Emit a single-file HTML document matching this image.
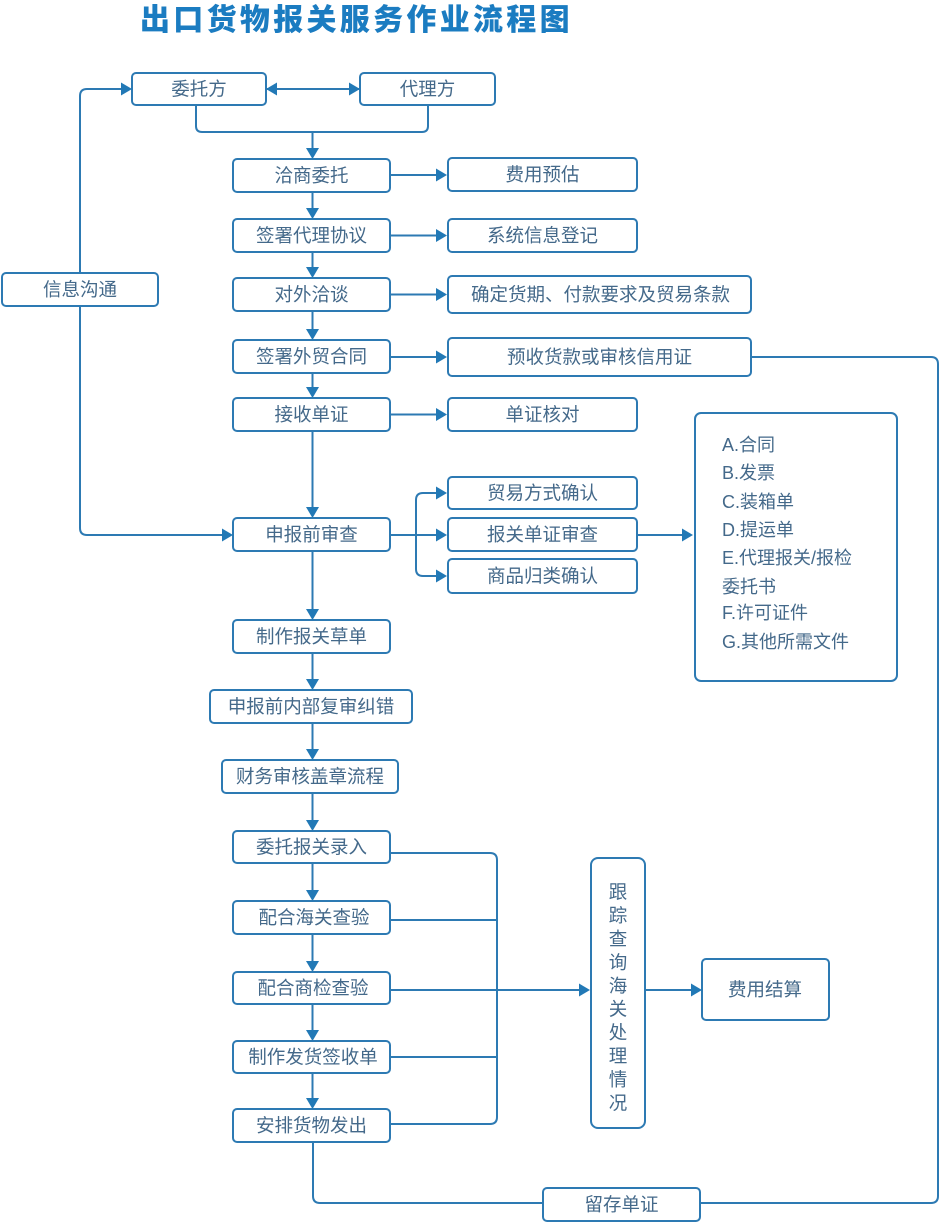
<!DOCTYPE html>
<html>
<head>
<meta charset="utf-8">
<style>
  html,body{margin:0;padding:0;background:#fff;}
  body{width:940px;height:1222px;overflow:hidden;}
  svg{display:block;}
  .t{font-family:"Liberation Sans","Noto Sans CJK SC",sans-serif;font-size:18.5px;fill:#44698a;}
  .d{font-family:"Liberation Sans","Noto Sans CJK SC",sans-serif;font-size:18px;fill:#44698a;}
  .title{font-family:"Noto Sans CJK SC","WenQuanYi Zen Hei",sans-serif;font-size:30px;font-weight:900;fill:#1b7cc1;letter-spacing:3.3px;}
</style>
</head>
<body>
<svg width="940" height="1222" viewBox="0 0 940 1222" xmlns="http://www.w3.org/2000/svg">
  <!-- Title -->
  <text class="title" x="140" y="17" dominant-baseline="central">出口货物报关服务作业流程图</text>

  <!-- Connector lines -->
  <g fill="none" stroke="#2d7ab3" stroke-width="2">
    <path d="M266,89 H360"/>
    <path d="M196,105 V126 Q196,132 202,132 H422 Q428,132 428,126 V105"/>
    <path d="M312.5,132 V152"/>
    <path d="M80,273 V96 Q80,89 87,89 H125"/>
    <path d="M80,306 V528 Q80,535 87,535 H226"/>
    <path d="M312.5,192 V212"/>
    <path d="M312.5,252 V271"/>
    <path d="M312.5,311 V333"/>
    <path d="M312.5,373 V391"/>
    <path d="M312.5,431 V511"/>
    <path d="M312.5,551 V613"/>
    <path d="M312.5,653 V683"/>
    <path d="M312.5,723 V753"/>
    <path d="M312.5,793 V824"/>
    <path d="M312.5,863 V894"/>
    <path d="M312.5,934 V965"/>
    <path d="M312.5,1004 V1034"/>
    <path d="M312.5,1073 V1102"/>
    <path d="M390,175 H440"/>
    <path d="M390,235.5 H440"/>
    <path d="M390,294.5 H440"/>
    <path d="M390,357 H440"/>
    <path d="M390,414.5 H440"/>
    <path d="M390,535 H440"/>
    <path d="M416,535 V500 Q416,493 423,493 H440"/>
    <path d="M416,535 V569 Q416,576 423,576 H440"/>
    <path d="M637,535 H686"/>
    <path d="M751,357 H931 Q938,357 938,364 V1196 Q938,1203 931,1203 H700"/>
    <path d="M313,1142 V1196 Q313,1203 320,1203 H543"/>
    <path d="M390,853 H490 Q497,853 497,860 V1117 Q497,1124 490,1124 H390"/>
    <path d="M390,920 H497"/>
    <path d="M390,990 H583"/>
    <path d="M390,1057 H497"/>
    <path d="M645,990 H695"/>
  </g>

  <!-- Boxes -->
  <g fill="#fff" stroke="#2d7ab3" stroke-width="2">
    <rect x="132" y="73" width="134" height="32" rx="4"/>
    <rect x="360" y="73" width="135" height="32" rx="4"/>
    <rect x="2" y="273" width="156" height="33" rx="4"/>
    <rect x="233" y="159" width="157" height="33" rx="4"/>
    <rect x="233" y="219" width="157" height="33" rx="4"/>
    <rect x="233" y="278" width="157" height="33" rx="4"/>
    <rect x="233" y="340" width="157" height="33" rx="4"/>
    <rect x="233" y="398" width="157" height="33" rx="4"/>
    <rect x="233" y="518" width="157" height="33" rx="4"/>
    <rect x="233" y="620" width="157" height="33" rx="4"/>
    <rect x="210" y="690" width="202" height="33" rx="4"/>
    <rect x="222" y="760" width="176" height="33" rx="4"/>
    <rect x="233" y="831" width="157" height="32" rx="4"/>
    <rect x="233" y="901" width="157" height="33" rx="4"/>
    <rect x="233" y="972" width="157" height="32" rx="4"/>
    <rect x="233" y="1041" width="157" height="32" rx="4"/>
    <rect x="233" y="1109" width="157" height="33" rx="4"/>
    <rect x="448" y="158" width="189" height="33" rx="4"/>
    <rect x="448" y="219" width="189" height="33" rx="4"/>
    <rect x="448" y="276" width="303" height="37" rx="4"/>
    <rect x="448" y="338" width="303" height="38" rx="4"/>
    <rect x="448" y="398" width="189" height="33" rx="4"/>
    <rect x="448" y="477" width="189" height="32" rx="4"/>
    <rect x="448" y="518" width="189" height="33" rx="4"/>
    <rect x="448" y="559" width="189" height="34" rx="4"/>
    <rect x="695" y="413" width="202" height="268" rx="6"/>
    <rect x="591" y="858" width="54" height="270" rx="7"/>
    <rect x="702" y="959" width="127" height="61" rx="4"/>
    <rect x="543" y="1188" width="157" height="33" rx="4"/>
  </g>

  <!-- Arrowheads -->
  <g fill="#2279b6">
    <polygon points="277,82.5 266,89 277,95.5"/>
    <polygon points="349,82.5 360,89 349,95.5"/>
    <polygon points="121,82.5 132,89 121,95.5"/>
    <polygon points="222,528.5 233,535 222,541.5"/>
    <polygon points="306,148 312.5,159 319,148"/>
    <polygon points="306,208 312.5,219 319,208"/>
    <polygon points="306,267 312.5,278 319,267"/>
    <polygon points="306,329 312.5,340 319,329"/>
    <polygon points="306,387 312.5,398 319,387"/>
    <polygon points="306,507 312.5,518 319,507"/>
    <polygon points="306,609 312.5,620 319,609"/>
    <polygon points="306,679 312.5,690 319,679"/>
    <polygon points="306,749 312.5,760 319,749"/>
    <polygon points="306,820 312.5,831 319,820"/>
    <polygon points="306,890 312.5,901 319,890"/>
    <polygon points="306,961 312.5,972 319,961"/>
    <polygon points="306,1030 312.5,1041 319,1030"/>
    <polygon points="306,1098 312.5,1109 319,1098"/>
    <polygon points="436,168.5 447,175 436,181.5"/>
    <polygon points="436,229 447,235.5 436,242"/>
    <polygon points="436,288 447,294.5 436,301"/>
    <polygon points="436,350.5 447,357 436,363.5"/>
    <polygon points="436,408 447,414.5 436,421"/>
    <polygon points="436,486.5 447,493 436,499.5"/>
    <polygon points="436,528.5 447,535 436,541.5"/>
    <polygon points="436,569.5 447,576 436,582.5"/>
    <polygon points="682,528.5 693,535 682,541.5"/>
    <polygon points="579,983.5 590,990 579,996.5"/>
    <polygon points="691,983.5 702,990 691,996.5"/>
  </g>

  <!-- Box labels -->
  <g class="t" text-anchor="middle" dominant-baseline="central">
    <text x="199" y="89">委托方</text>
    <text x="427.5" y="89">代理方</text>
    <text x="80" y="289.5">信息沟通</text>
    <text x="311.5" y="175.5">洽商委托</text>
    <text x="311.5" y="235.5">签署代理协议</text>
    <text x="311.5" y="294.5">对外洽谈</text>
    <text x="311.5" y="356.5">签署外贸合同</text>
    <text x="311.5" y="414.5">接收单证</text>
    <text x="311.5" y="534.5">申报前审查</text>
    <text x="311.5" y="636.5">制作报关草单</text>
    <text x="311" y="706.5">申报前内部复审纠错</text>
    <text x="310" y="776.5">财务审核盖章流程</text>
    <text x="311.5" y="847">委托报关录入</text>
    <text x="314" y="917.5">配合海关查验</text>
    <text x="313" y="988">配合商检查验</text>
    <text x="313" y="1057">制作发货签收单</text>
    <text x="311.5" y="1125.5">安排货物发出</text>
    <text x="542.5" y="174.5">费用预估</text>
    <text x="542.5" y="235.5">系统信息登记</text>
    <text x="600.5" y="294.5">确定货期、付款要求及贸易条款</text>
    <text x="599.5" y="357">预收货款或审核信用证</text>
    <text x="542.5" y="414.5">单证核对</text>
    <text x="542.5" y="493">贸易方式确认</text>
    <text x="542.5" y="534.5">报关单证审查</text>
    <text x="542.5" y="576">商品归类确认</text>
    <text x="765" y="989.5">费用结算</text>
    <text x="621.5" y="1204.5">留存单证</text>
  </g>

  <!-- Vertical text -->
  <g class="t" text-anchor="middle" dominant-baseline="central">
    <text x="618" y="892">跟</text>
    <text x="618" y="915.4">踪</text>
    <text x="618" y="938.9">查</text>
    <text x="618" y="962.3">询</text>
    <text x="618" y="985.8">海</text>
    <text x="618" y="1009.2">关</text>
    <text x="618" y="1032.7">处</text>
    <text x="618" y="1056.1">理</text>
    <text x="618" y="1079.6">情</text>
    <text x="618" y="1103">况</text>
  </g>

  <!-- Documents list -->
  <g class="d" dominant-baseline="central">
    <text x="722" y="445">A.合同</text>
    <text x="722" y="473">B.发票</text>
    <text x="722" y="502">C.装箱单</text>
    <text x="722" y="530">D.提运单</text>
    <text x="722" y="558">E.代理报关/报检</text>
    <text x="722" y="587">委托书</text>
    <text x="722" y="613">F.许可证件</text>
    <text x="722" y="642">G.其他所需文件</text>
  </g>
</svg>
</body>
</html>
